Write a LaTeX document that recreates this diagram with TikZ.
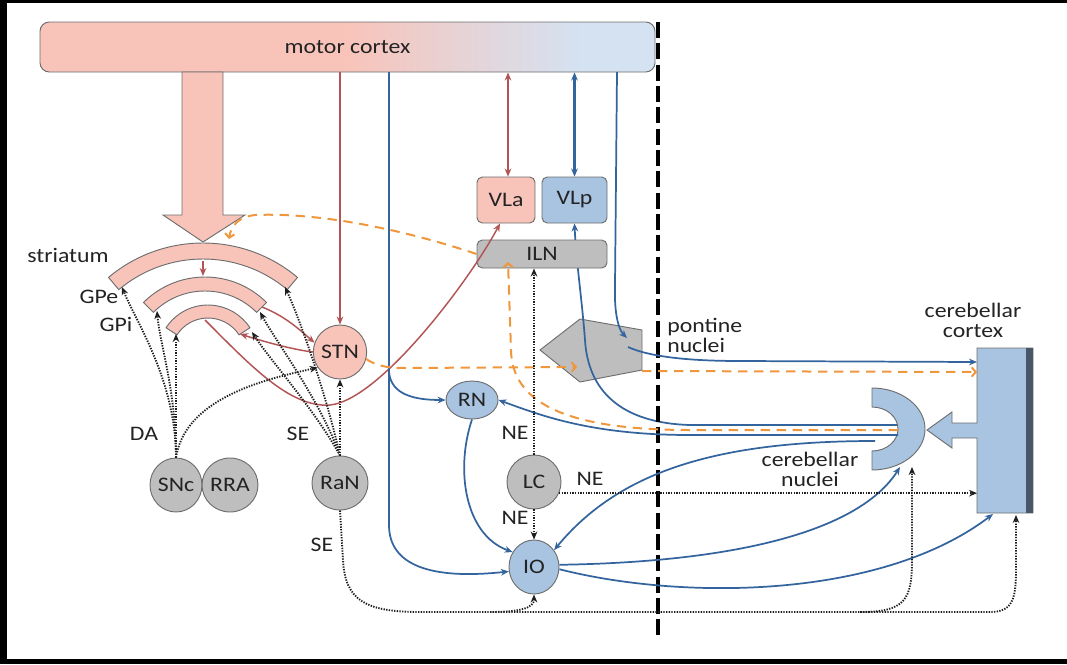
\documentclass[tikz,border=0pt]{standalone}
\usepackage{fontspec}
\setmainfont{Carlito}[FakeStretch=1.15]
\usetikzlibrary{arrows.meta,shapes.geometric}
\definecolor{pinkf}{RGB}{248,196,186}
\definecolor{bluef}{RGB}{168,196,225}
\definecolor{mcblue}{RGB}{212,226,242}
\definecolor{grayf}{RGB}{190,190,190}
\definecolor{bord}{RGB}{110,110,110}
\definecolor{redl}{RGB}{178,84,84}
\definecolor{bluel}{RGB}{52,100,158}
\definecolor{orl}{RGB}{240,150,60}
\definecolor{dotc}{RGB}{30,30,30}
\definecolor{txt}{RGB}{35,35,35}
\definecolor{strip}{RGB}{72,86,102}
\pgfdeclarehorizontalshading{mcshade}{100bp}{color(0bp)=(pinkf); color(50bp)=(pinkf); color(69bp)=(mcblue); color(100bp)=(mcblue)}
\pgfdeclarelayer{bg}
\pgfsetlayers{bg,main}
\tikzset{
  every node/.style={font=\fontsize{15.5}{15}\selectfont, text=txt},
  lab/.style={inner sep=0pt},
  pinkbox/.style={draw=bord, fill=pinkf, rounded corners=4pt, line width=0.7pt},
  bluebox/.style={draw=bord, fill=bluef, rounded corners=4pt, line width=0.7pt},
  graybox/.style={draw=bord, fill=grayf, rounded corners=4pt, line width=0.7pt},
  pinkell/.style={ellipse, draw=bord, fill=pinkf, line width=0.7pt, inner sep=0pt},
  blueell/.style={ellipse, draw=bord, fill=bluef, line width=0.7pt, inner sep=0pt},
  grayell/.style={ellipse, draw=bord, fill=grayf, line width=0.7pt, inner sep=0pt},
  shapeln/.style={draw=bord, line width=0.7pt},
  redln/.style={draw=redl, line width=1.1pt, ->},
  redboth/.style={draw=redl, line width=1.1pt, <->},
  bluln/.style={draw=bluel, line width=1.3pt, ->},
  blueboth/.style={draw=bluel, line width=1.8pt, <->},
  orln/.style={draw=orl, line width=1.5pt, dash pattern=on 7pt off 5pt, -{Straight Barb[length=3pt,width=7pt]}},
  dotln/.style={draw=dotc, line width=1.4pt, dash pattern=on 1pt off 1pt, ->},
  vdash/.style={draw=black, line width=2.3pt, dash pattern=on 12pt off 4pt},
}
\begin{document}
\begin{tikzpicture}[x=0.75pt,y=-0.75pt,>={Stealth[length=6pt,width=5pt]}]
\useasboundingbox (0,0) rectangle (1067,664);
% frame
\fill[black] (0,0) rectangle (1067,3);
\fill[black] (0,0) rectangle (7,664);
\fill[black] (0,659) rectangle (1067,664);

% motor cortex
\node[draw=bord, line width=0.7pt, rounded corners=7pt, shade, shading=mcshade, minimum width=461.25pt, minimum height=37.5pt] (mc) at (347.5,47) {motor cortex};

% big arrow cortex -> striatum
\draw[shapeln, fill=pinkf] (182,72) -- (223,72) -- (223,215) -- (245,215) -- (203,242) -- (163,215) -- (182,215) -- cycle;

% striatum, GPe, GPi
\draw[shapeln, fill=pinkf] (203,390) ++(230:147) arc[start angle=230, end angle=310, radius=147] -- ++(130:16) arc[start angle=310, end angle=230, radius=131] -- cycle;
\draw[shapeln, fill=pinkf] (205,364) ++(225:87) arc[start angle=225, end angle=315, radius=87] -- ++(135:14) arc[start angle=315, end angle=225, radius=73] -- cycle;
\draw[shapeln, fill=pinkf] (208,355) ++(213:50) arc[start angle=213, end angle=327, radius=50] -- ++(147:13) arc[start angle=327, end angle=213, radius=37] -- cycle;
\node[lab] (lstr) at (68,255) {striatum};
\node[lab] (lgpe) at (99,297) {GPe};
\node[lab] (lgpi) at (116,324) {GPi};

% thalamus
\node[pinkbox, minimum width=43.5pt, minimum height=34.5pt] (VLa) at (506,200) {VLa};
\node[bluebox, minimum width=48.75pt, minimum height=34.5pt] (VLp) at (574.5,200) {VLp};

% nuclei
\node[pinkell, minimum width=34.5pt, minimum height=40.5pt] (STN) at (340,352) {STN};
\node[blueell, minimum width=39pt, minimum height=28.5pt] (RN) at (472,400) {RN};
\node[grayell, minimum width=40.5pt, minimum height=40.5pt] (LC) at (534,482) {LC};
\node[blueell, minimum width=37.5pt, minimum height=40.5pt] (IO) at (534,567) {IO};
\node[grayell, minimum width=39pt, minimum height=40.5pt] (SNc) at (176,485) {SNc};
\node[grayell, minimum width=40.5pt, minimum height=40.5pt] (RRA) at (230,485) {RRA};
\node[grayell, minimum width=40.5pt, minimum height=40.5pt] (RaN) at (340,483) {RaN};

% pontine nuclei, cerebellar nuclei, cerebellar cortex
\begin{pgfonlayer}{bg}
\draw[shapeln, fill=grayf] (540,350) -- (580,319) -- (642,330) -- (642,370) -- (580,382) -- cycle;
\draw[bluln] (898,425) -- (690,425) .. controls (620,423) and (588,390) .. (585,340) .. controls (582,300) and (576,260) .. (VLp.south);
\end{pgfonlayer}
\node[graybox, minimum width=97.5pt, minimum height=21pt] (ILN) at (542,254) {ILN};
\node[lab, anchor=north west, align=left] (lpn) at (667,318) {pontine\\nuclei};

\draw[shapeln, fill=bluef] (872,388) arc[start angle=-90, end angle=90, x radius=53, y radius=41] -- (872,451) arc[start angle=90, end angle=-90, x radius=26, y radius=22] -- cycle;
\node[lab, align=center] (lcn) at (810,469) {cerebellar\\nuclei};

\draw[shapeln, fill=bluef] (977,348) -- (1033,348) -- (1033,513) -- (977,513) -- (977,438) -- (952,438) -- (952,448) -- (927,430) -- (952,412) -- (952,423) -- (977,423) -- cycle;
\fill[strip] (1026,348) rectangle (1033,513);
\node[lab, align=center] (lcc) at (973,320) {cerebellar\\cortex};

\coordinate (ccIn1) at (977,362);
\coordinate (ccIn2) at (977,372);
\coordinate (ccIn3) at (977,493);
\coordinate (ccB1) at (993,514);
\coordinate (ccB2) at (1016,515);
\coordinate (cnB1) at (900,467);
\coordinate (cnB2) at (912,467);
\coordinate (pnIn) at (627,338);
\coordinate (pnOut) at (628,347);
\coordinate (pnOr) at (577,367);
\coordinate (pnOr2) at (642,371);
\coordinate (strL) at (122,287);
\coordinate (strR) at (285,287);
\coordinate (gpeL) at (157,311);
\coordinate (gpeR) at (260,312);
\coordinate (gpeRr) at (262,307);
\coordinate (gpiL) at (176,334);
\coordinate (gpiR) at (252,332);
\coordinate (gpiRr) at (240,334);
\coordinate (gpiIn) at (205,320);
\coordinate (strOr) at (229,239);
\coordinate (ilnOr) at (508,262);

% dashed midline
\draw[vdash] (658,22) -- (658,640);

% red connections
\draw[redln] (STN.north |- mc.south) -- (STN.north);
\draw[redboth] ([xshift=1.5pt]VLa.north |- mc.south) -- ([xshift=1.5pt]VLa.north);
\draw[redln] (gpeRr) .. controls (285,316) and (300,330) .. (STN.160);
\draw[redln] (STN.west) .. controls (295,350) and (265,342) .. (gpiRr);
\draw[redln] (gpiIn) .. controls (250,365) and (290,408) .. (330,405) .. controls (380,400) and (470,280) .. ([xshift=-4.5pt]VLa.south);
\draw[redln] (203,261) -- (203,276);

% blue connections
\draw[blueboth] (VLp.north |- mc.south) -- (VLp.north);
\draw[bluln] (389,72) -- (389,525) .. controls (389,565) and (430,580) .. (IO.190);
\draw[bluln] (389,372) .. controls (391,395) and (415,400) .. (RN.west);
\draw[bluln] (RN.south) .. controls (455,470) and (465,535) .. (IO.145);
\draw[bluln] (617,72) -- (615,285) .. controls (614,315) and (619,330) .. (pnIn);
\draw[bluln] (pnOut) .. controls (650,357) and (690,361) .. (740,361) -- (ccIn1);
\draw[bluln] (898,435) -- (690,435) .. controls (590,435) and (540,415) .. (RN.east);
\draw[bluln] (875,441) .. controls (720,441) and (620,470) .. (IO.40);
\draw[bluln] (IO.5) .. controls (740,562) and (860,530) .. (cnB1);
\draw[bluln] (IO.-5) .. controls (680,600) and (880,600) .. (ccB1);

% orange dashed
\draw[orln] (898,430) -- (690,430) .. controls (560,430) and (512,400) .. (511,350) -- (ilnOr);
\draw[orln] (ILN.west) .. controls (420,235) and (330,212) .. (255,215) .. controls (238,217) and (231,226) .. (strOr);
\draw[orln] (STN.-15) .. controls (375,365) and (385,368) .. (405,368) -- (pnOr);
\draw[orln] (pnOr2) -- (ccIn2);

% dotted neuromodulator projections
\draw[dotln] (SNc.north) .. controls (176,380) and (135,320) .. (strL);
\draw[dotln] (SNc.north) .. controls (176,390) and (160,345) .. (gpeL);
\draw[dotln] (SNc.north) -- (gpiL);
\draw[dotln] (SNc.north) .. controls (185,400) and (260,380) .. (STN.215);
\draw[dotln] (RaN.north) .. controls (325,390) and (300,320) .. (strR);
\draw[dotln] (RaN.north) .. controls (320,400) and (275,340) .. (gpeR);
\draw[dotln] (RaN.north) .. controls (315,410) and (270,360) .. (gpiR);
\draw[dotln] (RaN.north) -- (STN.south);
\draw[dotln] (RaN.south) -- (343,560) .. controls (345,600) and (365,612) .. (420,612) -- (990,612) .. controls (1012,612) and (1016,600) .. (1016,570) -- (ccB2);
\draw[dotln] (490,612) .. controls (520,612) and (534,608) .. (IO.south);
\draw[dotln] (860,612) .. controls (905,612) and (912,600) .. (912,560) -- (cnB2);
\draw[dotln] (LC.north) -- (LC.north |- ILN.south);
\draw[dotln] (LC.south) -- (IO.north);
\draw[dotln] (LC.-24) -- (LC.-24 -| ccIn3);

% transmitter labels
\node[lab] (lda) at (144,434) {DA};
\node[lab] (lse1) at (298,434) {SE};
\node[lab] (lse2) at (322,545) {SE};
\node[lab] (lne1) at (515,433) {NE};
\node[lab] (lne2) at (515,518) {NE};
\node[lab] (lne3) at (590,479) {NE};
\end{tikzpicture}
\end{document}
